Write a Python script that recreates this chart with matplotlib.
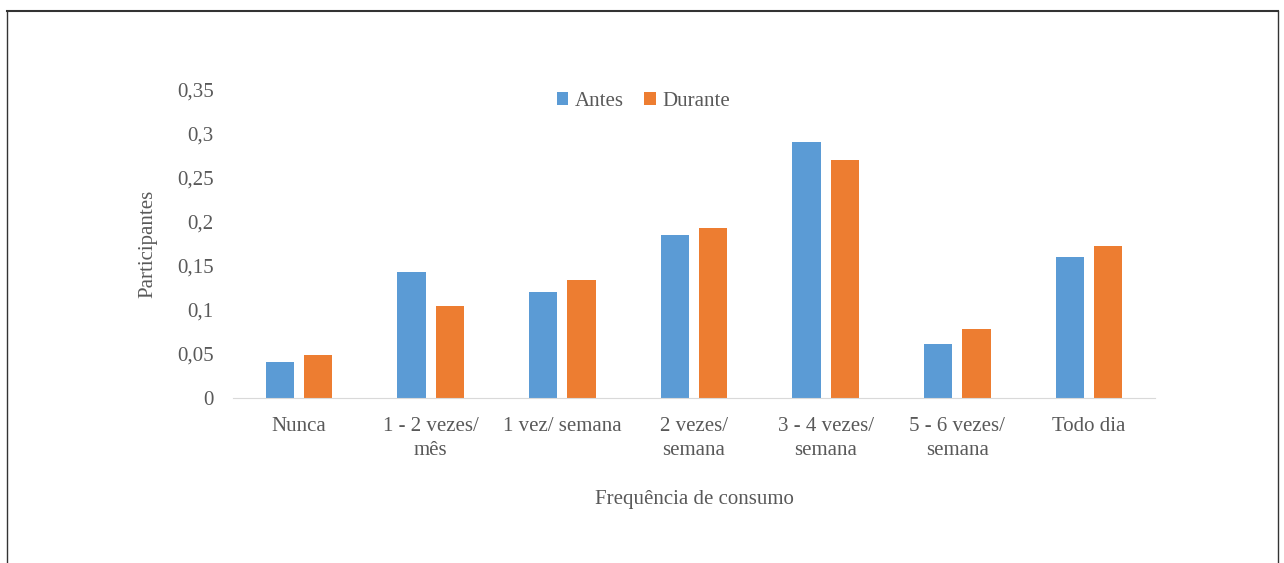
import matplotlib
matplotlib.use("Agg")
import matplotlib.pyplot as plt
from matplotlib.lines import Line2D
from matplotlib.ticker import FuncFormatter
import numpy as np

categorias = ["Nunca", "1 - 2 vezes/\nmês", "1 vez/ semana", "2 vezes/\nsemana",
              "3 - 4 vezes/\nsemana", "5 - 6 vezes/\nsemana", "Todo dia"]
antes = [0.041, 0.143, 0.120, 0.185, 0.291, 0.061, 0.160]
durante = [0.049, 0.105, 0.134, 0.193, 0.270, 0.078, 0.173]

azul = "#5B9BD5"
laranja = "#ED7D31"
cinza = "#595959"

plt.rcParams['font.family'] = ['Liberation Serif', 'DejaVu Serif']
fs = 15

fig = plt.figure(figsize=(12.84, 5.63), dpi=100)
ax = fig.add_axes([233/1284, 1-398/563, (1155-233)/1284, 308/563])

x = np.arange(len(categorias))
w = 0.215
ax.bar(x - 0.145, antes, w, color=azul, label="Antes")
ax.bar(x + 0.145, durante, w, color=laranja, label="Durante")

ax.set_xlim(-0.5, len(categorias) - 0.5)
ax.set_ylim(0, 0.35)
ax.set_yticks(np.arange(0, 0.351, 0.05))
ax.yaxis.set_major_formatter(FuncFormatter(lambda v, p: ("%g" % round(v, 2)).replace(".", ",")))
ax.set_xticks(x)
ax.set_xticklabels(categorias, linespacing=1.35)

for s in ["top", "right", "left"]:
    ax.spines[s].set_visible(False)
ax.spines["bottom"].set_color("#D9D9D9")
ax.tick_params(axis="both", length=0, labelsize=fs, colors=cinza)
ax.tick_params(axis="x", pad=14)
ax.tick_params(axis="y", pad=14)

ax.set_ylabel("Participantes", fontsize=fs, color=cinza, labelpad=14)
ax.set_xlabel("Frequência de consumo", fontsize=fs, color=cinza, labelpad=21)

ax.legend(loc="upper center", bbox_to_anchor=(0.445, 1.055), ncol=2, frameon=False,
          fontsize=fs, labelcolor=cinza, handlelength=0.55, handleheight=0.55,
          handletextpad=0.3, columnspacing=1.0)

# moldura
fig.add_artist(Line2D([7/1284, 7/1284], [0, 1-11/563], color="#333333", lw=1))
fig.add_artist(Line2D([7/1284, 1278/1284], [1-11/563, 1-11/563], color="#333333", lw=1.5))
fig.add_artist(Line2D([1278/1284, 1278/1284], [0, 1-11/563], color="#333333", lw=1))

fig.savefig("out.png", dpi=100)
